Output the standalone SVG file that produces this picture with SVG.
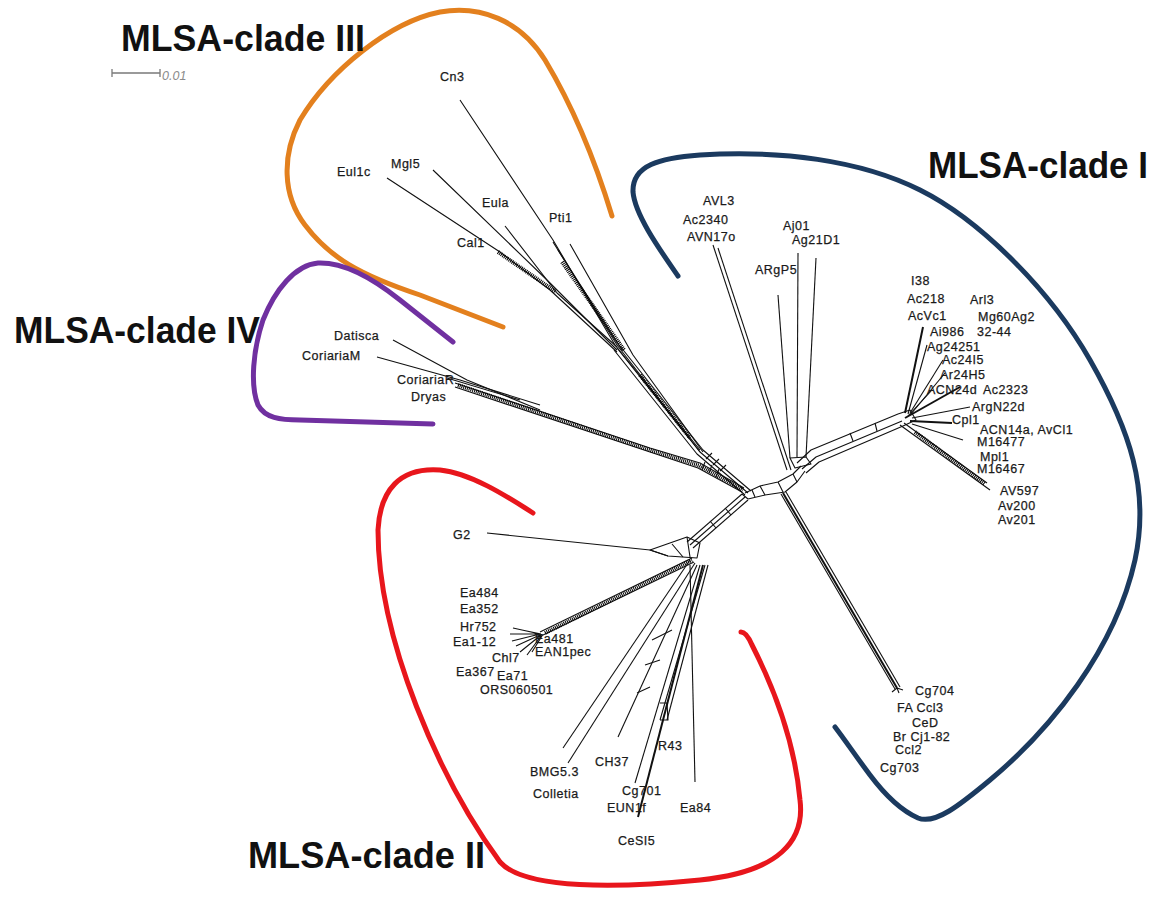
<svg xmlns="http://www.w3.org/2000/svg" width="1157" height="899" viewBox="0 0 1157 899">
  <style>
    .clade-title { font-family: "Liberation Sans", Arial, sans-serif; font-weight: bold; font-size: 36px; fill: #111; }
    .tip { font-family: "Liberation Sans", Arial, sans-serif; font-size: 12.5px; letter-spacing: 0.5px; fill: #1a1a1a; stroke: #1a1a1a; stroke-width: 0.25; }
    .scale-text { font-family: "Liberation Sans", Arial, sans-serif; font-style: italic; font-size: 12.5px; fill: #8a8a8a; }
    .hull { fill: none; stroke-width: 5; stroke-linecap: round; stroke-linejoin: round; }
    .edge { fill: none; stroke: #111; stroke-width: 1.1; stroke-linejoin: round; }
    .edge-bold { fill: none; stroke: #111; stroke-width: 2; stroke-linejoin: round; }
    .hatch { fill: none; stroke: #000; stroke-width: 4; stroke-dasharray: 1 0.9; }
  </style>

  <rect width="1157" height="899" fill="#fff"/>

  <!-- scale bar -->
  <g id="scale-bar">
    <path d="M112,73 H160 M112,69 V77 M160,69 V77" fill="none" stroke="#7a7a7a" stroke-width="1.3"/>
    <text class="scale-text" x="162" y="80">0.01</text>
  </g>

  <!-- clade outlines -->
  <g id="clade-outlines">
    <path id="hull-III" class="hull" stroke="#E3801E" d="M612,216 C598,170 575,110 545,60 C520,20 480,5 440,12 C390,22 330,70 300,120 C282,155 282,195 305,225 C330,258 360,275 420,295 L503,327"/>
    <path id="hull-IV" class="hull" stroke="#7030A0" d="M453,342 L400,300 C370,276 342,262 318,263 C295,265 275,290 263,320 C253,350 250,385 258,405 C265,418 280,420 300,420 L433,424"/>
    <path id="hull-II" class="hull" stroke="#E8161C" d="M533,513 C505,495 470,473 440,470 C400,467 380,490 378,530 C378,640 440,780 500,862 C525,890 620,888 700,880 C780,872 805,840 800,800 C795,745 775,690 752,645 C749,638 745,632 741,632"/>
    <path id="hull-I" class="hull" stroke="#1B3A5F" d="M678,276 C660,250 635,215 633,192 C632,165 660,158 700,155 C780,150 860,160 920,190 C980,220 1050,290 1090,360 C1130,430 1150,490 1135,560 C1115,650 1050,730 990,780 C960,805 935,825 918,818 C900,810 885,795 870,775 C855,755 845,740 835,727"/>
  </g>

  <!-- clade titles -->
  <g id="clade-titles">
    <text class="clade-title" x="121" y="51" textLength="244" lengthAdjust="spacingAndGlyphs">MLSA-clade III</text>
    <text class="clade-title" x="928" y="178" textLength="220" lengthAdjust="spacingAndGlyphs">MLSA-clade I</text>
    <text class="clade-title" x="14" y="343" textLength="246" lengthAdjust="spacingAndGlyphs">MLSA-clade IV</text>
    <text class="clade-title" x="248" y="868" textLength="237" lengthAdjust="spacingAndGlyphs">MLSA-clade II</text>
  </g>

  <!-- split network edges -->
  <g id="connectors">
    <!-- central reticulation -->
    <path class="edge" d="M745,493 L760,486 L778,482 L793,474 L801,466"/>
    <path class="edge" d="M748,499 L765,495 L785,492 L797,482 L805,471"/>
    <path class="edge" d="M760,486 L765,495 M778,482 L783,492 M793,474 L797,482 M752,490 L755,497"/>
    <path class="edge" d="M742,494 L748,499"/>

    <!-- clade III branches -->
    <path class="edge" d="M460,100 L553,240 L615,345 L700,450"/>
    <path class="edge" d="M553,242 L617,345 L700,452"/>
    <path class="edge" d="M570,244 L633,355 L703,452"/>
    <path class="edge" d="M558,250 L622,350"/>
    <path class="hatch" d="M562,262 L624,350" stroke-width="3"/>
    <path class="edge" d="M505,226 L557,293 L617,347"/>
    <path class="edge" d="M433,170 L547,280 L617,350"/>
    <path class="edge" d="M387,178 L500,252 L550,290 L617,352"/>
    <path class="hatch" d="M498,252 L556,292" stroke-width="3"/>
    <path class="edge" d="M614,350 L697,454 L745,495"/>
    <path class="edge" d="M620,346 L703,450 L751,491"/>
    <path class="edge" d="M617,348 L700,452 L748,493"/>
    <path class="hatch" d="M640,375 L690,438" stroke-width="3"/>
    <path class="edge" d="M706,459 L712,453 M713,465 L719,459 M720,471 L726,465"/>

    <!-- clade IV branches -->
    <path class="edge" d="M393,340 L467,380 L540,410"/>
    <path class="edge" d="M377,357 L460,380 L540,405"/>
    <path class="edge" d="M447,378 L520,400"/>
    <path class="edge" d="M455,383 L650,448 L700,463 L744,488"/>
    <path class="edge" d="M455,387 L650,452 L698,468 L742,492"/>
    <path class="hatch" d="M458,385 L650,450 L699,465.5 L743,490"/>
    <path class="edge" d="M705,462 L702,470 M712,465 L709,473 M719,469 L716,477"/>

    <!-- clade II branches -->
    <path class="edge" d="M742,494 L687,542"/>
    <path class="edge" d="M745,497 L690,545"/>
    <path class="edge" d="M748,500 L693,548"/>
    <path class="edge" d="M725,508 L731,515 M710,521 L716,528"/>
    <path class="edge" d="M487,533 L650,550 L668,556"/>
    <path class="edge" d="M650,550 L687,537 L700,543 L697,558 L668,556 Z"/>
    <path class="edge" d="M672,544 L683,557 M687,537 L690,557"/>
    <path class="edge" d="M540,632 L692,558"/>
    <path class="edge" d="M541,636 L694,562"/>
    <path class="hatch" d="M545,633 L692,560" stroke-width="3"/>
    <path class="edge" d="M540,634 L513,628 M540,634 L510,634 M540,634 L512,641 M540,635 L516,646 M541,635 L520,652 M541,636 L527,655 M542,636 L532,652 M541,634 L522,630"/>
    <path class="edge" d="M563,748 L690,560"/>
    <path class="edge" d="M568,763 L695,563"/>
    <path class="edge" d="M618,737 L697,565"/>
    <path class="edge" d="M635,783 L700,565"/>
    <path class="edge-bold" d="M638,817 L703,565"/>
    <path class="edge" d="M660,720 L705,565"/>
    <path class="edge" d="M667,720 L708,565"/>
    <path class="edge" d="M695,782 L690,565"/>
    <path class="edge" d="M637,693 L650,687 M645,665 L660,660 M660,703 L667,703 L668,720 L660,720 M652,640 L672,630"/>

    <!-- clade I branches -->
    <path class="edge" d="M797,463 L811,450 L898,414"/>
    <path class="edge" d="M802,469 L816,457 L902,421"/>
    <path class="edge" d="M806,473 L819,462 L903,426"/>
    <path class="edge" d="M850,433 L853,441 M875,423 L877,431"/>
    <path class="edge" d="M798,253 L797,457"/>
    <path class="edge" d="M816,258 L806,457"/>
    <path class="edge" d="M778,295 L790,458"/>
    <path class="edge" d="M713,245 L787,470"/>
    <path class="edge" d="M718,248 L791,470"/>
    <path class="edge" d="M790,458 L806,457 L811,464 L795,468 Z"/>

    <!-- clade I terminal fan -->
    <path class="edge" d="M898,414 L910,410 L916,420 L903,426"/>
    <path class="edge-bold" d="M905,413 L923,327"/>
    <path class="edge" d="M908,414 L927,345"/>
    <path class="edge" d="M910,413 L943,360"/>
    <path class="edge" d="M911,414 L945,373"/>
    <path class="edge-bold" d="M905,418 L960,387"/>
    <path class="edge" d="M908,416 L932,390"/>
    <path class="edge" d="M912,418 L970,407"/>
    <path class="edge-bold" d="M910,421 L952,423"/>
    <path class="edge" d="M912,424 L963,440"/>
    <path class="edge" d="M900,425 L990,490"/>
    <path class="edge" d="M904,423 L987,483"/>
    <path class="hatch" d="M915,432 L985,484" stroke-width="2.5"/>

    <!-- clade I lower branch -->
    <path class="edge" d="M781,494 L895,689"/>
    <path class="edge" d="M786,492 L900,687"/>
    <path class="edge-bold" d="M783,493 L897,688"/>
    <path class="edge" d="M897,688 L892,692 M897,688 L899,693 M897,688 L903,690"/>
  </g>

  <!-- clade III tips -->
  <g id="tips-clade-III">
    <text class="tip" x="440" y="81">Cn3</text>
    <text class="tip" x="337" y="176">Eul1c</text>
    <text class="tip" x="391" y="168">Mgl5</text>
    <text class="tip" x="482" y="207">Eula</text>
    <text class="tip" x="549" y="222">Pti1</text>
    <text class="tip" x="457" y="247">Cal1</text>
  </g>

  <!-- clade IV tips -->
  <g id="tips-clade-IV">
    <text class="tip" x="334" y="340">Datisca</text>
    <text class="tip" x="302" y="360">CoriariaM</text>
    <text class="tip" x="397" y="384">CoriariaR</text>
    <text class="tip" x="411" y="401">Dryas</text>
  </g>

  <!-- clade I tips -->
  <g id="tips-clade-I">
    <text class="tip" x="703" y="205">AVL3</text>
    <text class="tip" x="683" y="224">Ac2340</text>
    <text class="tip" x="687" y="241">AVN17o</text>
    <text class="tip" x="783" y="230">Aj01</text>
    <text class="tip" x="792" y="244">Ag21D1</text>
    <text class="tip" x="755" y="274">ARgP5</text>
    <text class="tip" x="911" y="285">I38</text>
    <text class="tip" x="907" y="303">Ac218</text>
    <text class="tip" x="970" y="304">Arl3</text>
    <text class="tip" x="908" y="320">AcVc1</text>
    <text class="tip" x="978" y="321">Mg60Ag2</text>
    <text class="tip" x="930" y="336">Ai986</text>
    <text class="tip" x="977" y="336">32-44</text>
    <text class="tip" x="927" y="351">Ag24251</text>
    <text class="tip" x="942" y="364">Ac24I5</text>
    <text class="tip" x="940" y="379">Ar24H5</text>
    <text class="tip" x="927" y="394">ACN24d</text>
    <text class="tip" x="983" y="394">Ac2323</text>
    <text class="tip" x="972" y="411">ArgN22d</text>
    <text class="tip" x="952" y="424">Cpl1</text>
    <text class="tip" x="980" y="434">ACN14a, AvCl1</text>
    <text class="tip" x="977" y="446">M16477</text>
    <text class="tip" x="980" y="461">Mpl1</text>
    <text class="tip" x="977" y="473">M16467</text>
    <text class="tip" x="1000" y="495">AV597</text>
    <text class="tip" x="998" y="510">Av200</text>
    <text class="tip" x="998" y="524">Av201</text>
    <text class="tip" x="915" y="695">Cg704</text>
    <text class="tip" x="897" y="712">FA Ccl3</text>
    <text class="tip" x="912" y="727">CeD</text>
    <text class="tip" x="893" y="741">Br Cj1-82</text>
    <text class="tip" x="895" y="754">Ccl2</text>
    <text class="tip" x="880" y="772">Cg703</text>
  </g>

  <!-- clade II tips -->
  <g id="tips-clade-II">
    <text class="tip" x="453" y="539">G2</text>
    <text class="tip" x="460" y="597">Ea484</text>
    <text class="tip" x="460" y="613">Ea352</text>
    <text class="tip" x="460" y="631">Hr752</text>
    <text class="tip" x="453" y="646">Ea1-12</text>
    <text class="tip" x="535" y="643">Ea481</text>
    <text class="tip" x="535" y="656">EAN1pec</text>
    <text class="tip" x="492" y="662">Chl7</text>
    <text class="tip" x="456" y="676">Ea367</text>
    <text class="tip" x="497" y="680">Ea71</text>
    <text class="tip" x="480" y="694">ORS060501</text>
    <text class="tip" x="530" y="776">BMG5.3</text>
    <text class="tip" x="533" y="798">Colletia</text>
    <text class="tip" x="595" y="766">CH37</text>
    <text class="tip" x="658" y="750">R43</text>
    <text class="tip" x="622" y="795">Cg701</text>
    <text class="tip" x="607" y="812">EUN1f</text>
    <text class="tip" x="680" y="812">Ea84</text>
    <text class="tip" x="618" y="845">CeSI5</text>
  </g>
</svg>
